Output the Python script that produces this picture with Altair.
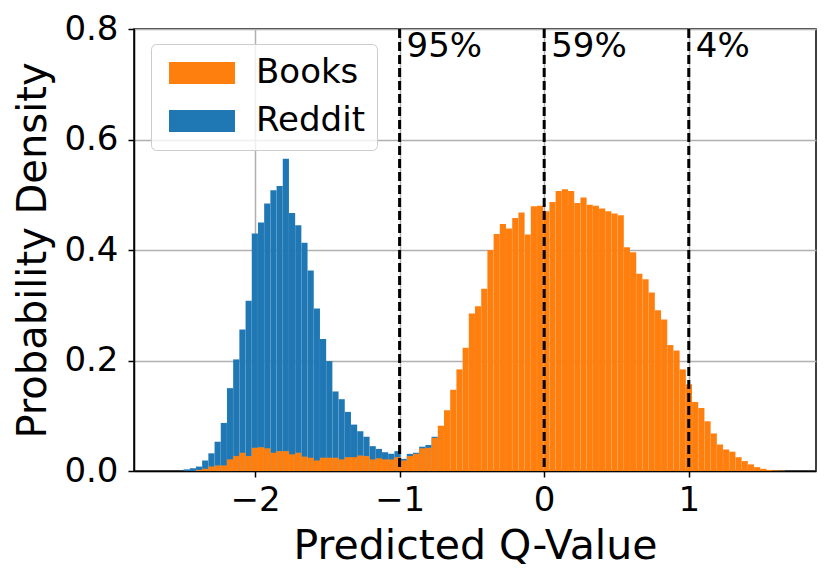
import altair as alt
import pandas as pd

# ---- data ----
bin_left = -2.623
bin_width = 0.04289

reddit_first_bin = 3
reddit_density = [
    0.003, 0.005, 0.008, 0.019, 0.032, 0.053, 0.087, 0.150, 0.202, 0.256,
    0.308, 0.430, 0.450, 0.484, 0.508, 0.516, 0.565, 0.467, 0.445, 0.413,
    0.363, 0.294, 0.239, 0.199, 0.144, 0.130, 0.107, 0.084, 0.072, 0.062,
    0.045, 0.040, 0.034, 0.031, 0.036, 0.022, 0.031, 0.033, 0.044, 0.047,
    0.062,
]

books_first_bin = 5
books_density = [
    0.002, 0.004, 0.008, 0.010, 0.010, 0.021, 0.027, 0.033, 0.027, 0.042,
    0.043, 0.041, 0.033, 0.036, 0.036, 0.030, 0.033, 0.026, 0.024, 0.019,
    0.024, 0.024, 0.024, 0.021, 0.025, 0.025, 0.028, 0.027, 0.021, 0.023,
    0.021, 0.021, 0.025, 0.019, 0.027, 0.031, 0.041, 0.042, 0.060, 0.082,
    0.110, 0.147, 0.184, 0.223, 0.285, 0.298, 0.330, 0.400, 0.429, 0.447,
    0.439, 0.458, 0.468, 0.428, 0.479, 0.480, 0.470, 0.487, 0.507, 0.510,
    0.507, 0.485, 0.495, 0.482, 0.480, 0.475, 0.470, 0.466, 0.463, 0.405,
    0.396, 0.357, 0.347, 0.323, 0.291, 0.274, 0.228, 0.218, 0.184, 0.157,
    0.125, 0.114, 0.090, 0.068, 0.048, 0.039, 0.035, 0.025, 0.018, 0.012,
    0.007, 0.004, 0.002, 0.001, 0.0007,
]

series_names = ["Books", "Reddit"]
series_colors = ["#ff7f0e", "#1f77b4"]

threshold_x = [-1, 0, 1]
threshold_labels = ["95%", "59%", "4%"]
threshold_label_y = 0.749

x_domain = [-2.837, 1.880]
y_domain = [0.0, 0.8]
x_ticks = [-2, -1, 0, 1]
y_ticks = [0.0, 0.2, 0.4, 0.6, 0.8]

FONT = "DejaVu Sans"


def hist_frame(name, first_bin, values):
    rows = []
    for i, v in enumerate(values):
        k = first_bin + i
        rows.append({
            "series": name,
            "x0": bin_left + k * bin_width,
            "x1": bin_left + (k + 1) * bin_width,
            "density": v,
            "base": 0.0,
        })
    return pd.DataFrame(rows)


reddit_df = hist_frame("Reddit", reddit_first_bin, reddit_density)
books_df = hist_frame("Books", books_first_bin, books_density)
thr_df = pd.DataFrame({"x": threshold_x, "label": threshold_labels,
                       "y": [threshold_label_y] * len(threshold_x)})

x_scale = alt.Scale(domain=x_domain, nice=False, zero=False)
y_scale = alt.Scale(domain=y_domain, nice=False)

x_enc = alt.X("x0:Q", scale=x_scale, title="Predicted Q-Value",
              axis=alt.Axis(values=x_ticks, format="d", titlePadding=9,
                            labelPadding=6, titleFontSize=41))
y_enc = alt.Y("density:Q", scale=y_scale, title="Probability Density",
              axis=alt.Axis(values=y_ticks, format=".1f", titlePadding=10, labelPadding=10))

color_enc = alt.Color(
    "series:N",
    scale=alt.Scale(domain=series_names, range=series_colors),
    legend=alt.Legend(
        title=None,
        orient="none",
        legendX=17,
        legendY=15,
        symbolType="M-1,-1L5,-1L5,1L-1,1Z",
        symbolSize=484,
        symbolStrokeWidth=0,
        symbolOpacity=1,
        labelFont=FONT,
        labelFontSize=34,
        labelColor="black",
        labelOffset=59,
        rowPadding=14,
        padding=12,
        fillColor="rgba(255,255,255,0.8)",
        strokeColor="#cccccc",
        cornerRadius=5,
    ),
)

bar_style = dict(stroke="white", strokeOpacity=0.08, strokeWidth=0.5)

reddit_layer = alt.Chart(reddit_df).mark_rect(**bar_style).encode(
    x=x_enc, x2="x1:Q", y=y_enc, y2="base:Q", color=color_enc
)
books_layer = alt.Chart(books_df).mark_rect(**bar_style).encode(
    x=x_enc, x2="x1:Q", y=y_enc, y2="base:Q", color=color_enc
)

rules = alt.Chart(thr_df).mark_rule(
    color="black", strokeDash=[9, 4], strokeWidth=3
).encode(x=alt.X("x:Q", scale=x_scale))

labels = alt.Chart(thr_df).mark_text(
    align="left", baseline="alphabetic", dx=7, font=FONT, fontSize=34, color="black"
).encode(
    x=alt.X("x:Q", scale=x_scale),
    y=alt.Y("y:Q", scale=y_scale),
    text="label:N",
)

chart = alt.layer(reddit_layer, books_layer, rules, labels).properties(
    width=682,
    height=442,
    autosize=alt.AutoSizeParams(type="none"),
    padding={"left": 126, "top": 21, "right": 6, "bottom": 104},
).configure_view(
    stroke="black", strokeWidth=1.5
).configure_axis(
    labelFont=FONT,
    labelFontSize=34,
    labelColor="black",
    titleFont=FONT,
    titleFontSize=40,
    titleFontWeight="normal",
    titleColor="black",
    tickColor="black",
    tickSize=6,
    tickWidth=1.5,
    domainColor="black",
    domainWidth=1.5,
    grid=True,
    gridColor="#b0b0b0",
    gridWidth=1.5,
    zindex=1,
)

chart.save("out.html", embed_options={"renderer": "svg", "actions": False})
